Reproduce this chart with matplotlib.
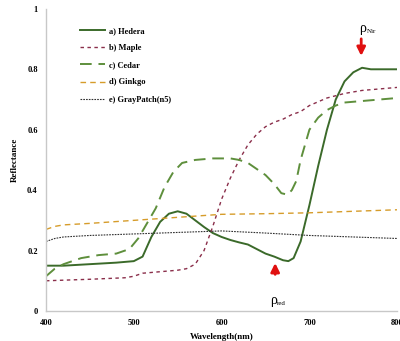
import matplotlib
matplotlib.use('Agg')
import matplotlib.pyplot as plt

# ---- data ----
wl_hedera = [400, 420, 450, 480, 500, 510, 520, 530, 540, 550, 560, 570, 580, 590, 600, 610,
             620, 630, 640, 650, 660, 670, 676, 682, 690, 700, 710, 720, 730, 740, 750, 760,
             770, 780, 800]
hedera = [0.15, 0.15, 0.155, 0.16, 0.165, 0.18, 0.245, 0.295, 0.322, 0.33, 0.322, 0.30, 0.278,
          0.258, 0.245, 0.235, 0.227, 0.22, 0.205, 0.19, 0.18, 0.168, 0.165, 0.175, 0.23, 0.35,
          0.48, 0.60, 0.70, 0.76, 0.79, 0.805, 0.80, 0.80, 0.80]

wl_maple = [400, 450, 490, 500, 510, 530, 550, 560, 570, 580, 590, 600, 610, 620, 630, 640,
            650, 660, 670, 680, 690, 700, 720, 740, 760, 780, 800]
maple = [0.10, 0.105, 0.11, 0.115, 0.125, 0.13, 0.135, 0.14, 0.155, 0.20, 0.28, 0.37, 0.44,
         0.50, 0.55, 0.585, 0.61, 0.625, 0.635, 0.65, 0.66, 0.68, 0.705, 0.72, 0.73, 0.735, 0.74]

wl_cedar = [400, 410, 420, 440, 460, 480, 495, 505, 515, 525, 535, 545, 555, 570, 590, 610,
            620, 630, 640, 650, 660, 668, 675, 680, 685, 690, 700, 710, 720, 730, 740, 760,
            780, 800]
cedar = [0.115, 0.14, 0.155, 0.175, 0.185, 0.19, 0.205, 0.24, 0.29, 0.34, 0.41, 0.46, 0.49,
         0.50, 0.505, 0.505, 0.50, 0.49, 0.47, 0.45, 0.42, 0.39, 0.385, 0.40, 0.43, 0.50, 0.60,
         0.64, 0.665, 0.68, 0.69, 0.695, 0.70, 0.705]

wl_ginkgo = [400, 410, 420, 450, 500, 550, 600, 650, 700, 750, 800]
ginkgo = [0.27, 0.28, 0.285, 0.29, 0.30, 0.31, 0.32, 0.322, 0.325, 0.33, 0.335]

wl_gray = [400, 410, 420, 450, 500, 550, 600, 650, 700, 750, 800]
gray = [0.23, 0.24, 0.245, 0.25, 0.255, 0.26, 0.265, 0.258, 0.25, 0.245, 0.24]

x_ticks = [400, 500, 600, 700, 800]
y_ticks = [0, 0.2, 0.4, 0.6, 0.8, 1]
y_ticklabels = ['0', '0.2', '0.4', '0.6', '0.8', '1']

plt.rcParams['font.family'] = ['Liberation Serif', 'DejaVu Serif']
plt.rcParams['font.weight'] = 'bold'

fig = plt.figure(figsize=(4.0, 3.41), dpi=100)
ax = fig.add_axes([0.115, 0.088, 0.878, 0.886])

ax.plot(wl_hedera, hedera, color='#3b6a2a', lw=1.4, label='a) Hedera')
ax.plot(wl_maple, maple, color='#8a2e4a', lw=1.0, ls=(0, (2.5, 2.5)), label='b) Maple')
ax.plot(wl_cedar, cedar, color='#5e8f3c', lw=1.4, ls=(0, (6, 3.5)), label='c) Cedar')
ax.plot(wl_ginkgo, ginkgo, color='#d69c2a', lw=1.0, ls=(0, (4, 3)), label='d) Ginkgo')
ax.plot(wl_gray, gray, color='#303030', lw=0.8, ls=(0, (1.5, 1)), label='e) GrayPatch(n5)')

ax.set_xlim(400, 800)
ax.set_ylim(0, 1)
ax.set_xticks(x_ticks)
ax.set_yticks(y_ticks)
ax.set_yticklabels(y_ticklabels)
ax.tick_params(length=0, labelsize=6, pad=6)
for s in ['top', 'right']:
    ax.spines[s].set_visible(False)
for s in ['left', 'bottom']:
    ax.spines[s].set_color('#c8c8c8')
    ax.spines[s].set_linewidth(1.0)

ax.set_xlabel('Wavelength(nm)', fontsize=6.5, fontweight='bold', labelpad=4)
ax.set_ylabel('Reflectance', fontsize=6.5, fontweight='bold', labelpad=6)

ax.legend(loc='upper left', bbox_to_anchor=(0.075, 0.965), frameon=False, fontsize=6,
          handlelength=3.0, labelspacing=1.1, handletextpad=0.5)

# annotations
ax.annotate('', xy=(759, 0.835), xytext=(759, 0.91),
            arrowprops=dict(arrowstyle='-|>,head_width=0.25,head_length=0.5', color='#e01010', lw=2))
ax.text(761, 0.935, 'ρ', fontsize=10, ha='center', va='center', fontweight='normal')
ax.text(765, 0.925, 'Nir', fontsize=5, ha='left', va='center', fontweight='normal')
ax.annotate('', xy=(661, 0.168), xytext=(661, 0.112),
            arrowprops=dict(arrowstyle='-|>,head_width=0.25,head_length=0.5', color='#e01010', lw=2))
ax.text(659, 0.035, 'ρ', fontsize=10, ha='center', va='center', fontweight='normal')
ax.text(663, 0.025, 'red', fontsize=5, ha='left', va='center', fontweight='normal')

fig.savefig('out.png', dpi=100)
